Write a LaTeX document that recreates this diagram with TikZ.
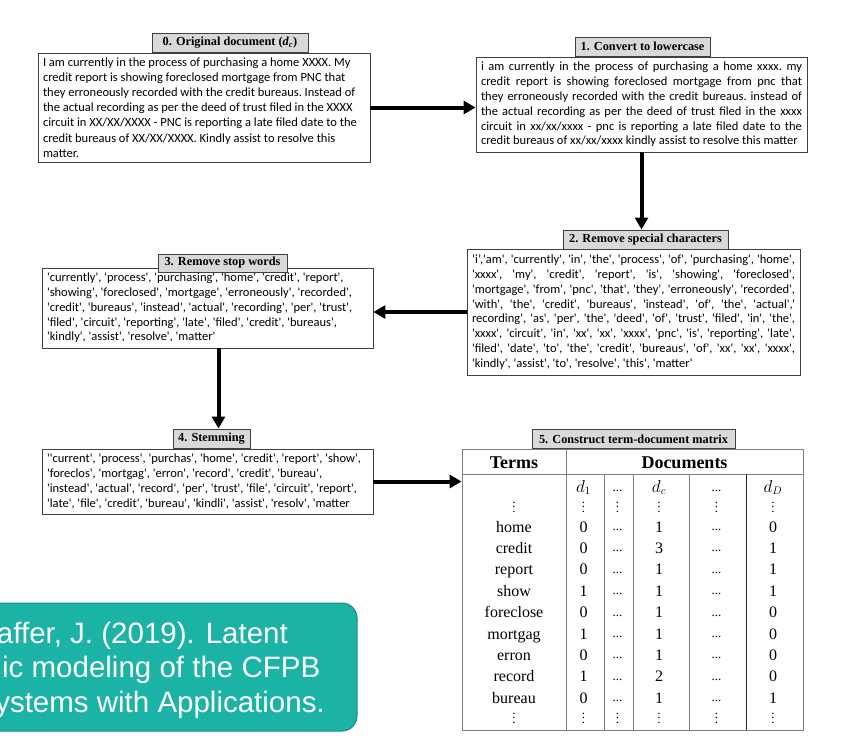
\documentclass[tikz,border=0pt]{standalone}
\usepackage{fontspec}
\setmainfont{Liberation Serif}
\newfontfamily\calfont{Carlito}
\newfontfamily\arialfont{Liberation Sans}
\usetikzlibrary{arrows.meta}
\definecolor{teal1}{HTML}{1AB3A6}
\definecolor{teal2}{HTML}{148C82}
\definecolor{boxline}{HTML}{404040}
\definecolor{titlefill}{HTML}{D9D9D9}
\definecolor{tabline}{HTML}{808080}
\newcommand\rs{\frenchspacing\spaceskip=0pt\xspaceskip=0pt\relax}
\newcommand\jl[2]{\makebox[#1][s]{#2}}
\newcommand\vd{\vbox{\baselineskip=4.3pt\lineskiplimit=0pt\hbox{.}\hbox{.}\hbox{.}}}
\tikzset{
  bodybox/.style={draw=boxline, line width=0.9pt, fill=white, inner xsep=5pt, inner ysep=0pt, align=left},
  bodyfont/.style={font=\calfont\fontsize{12.5}{#1}\selectfont},
  titlebox/.style={draw=boxline, line width=1pt, fill=titlefill, inner sep=0pt, minimum height=19pt,
    font=\bfseries\fontsize{12.3}{14}\selectfont},
  arr/.style={line width=4pt, -{Triangle[length=12pt,width=13pt]}},
  cell/.style={font=\fontsize{16}{16}\selectfont, inner sep=0pt, anchor=base},
  hcell/.style={font=\bfseries\fontsize{18}{18}\selectfont, inner sep=0pt, anchor=base},
  dcell/.style={font=\fontsize{13}{13}\selectfont, inner sep=0pt, anchor=base},
  vcell/.style={font=\fontsize{13}{13}\selectfont, inner sep=0pt, anchor=base},
  tabrule/.style={draw=tabline, line width=0.9pt},
  reftext/.style={font=\arialfont\fontsize{29.5}{29.5}\selectfont, text=white, inner sep=0pt},
}
\begin{document}
\begin{tikzpicture}[x=1pt,y=-1pt]
\useasboundingbox (0,0) rectangle (862,742);
\clip (0,0) rectangle (862,742);

% ---------- box 0
\node[bodybox, bodyfont=15.2, text width=322pt, minimum height=109pt] (b0) at (204,107.5)
{\rs I am currently in the process of purchasing a home XXXX. My\\
credit report is showing foreclosed mortgage from PNC that\\
they erroneously recorded with the credit bureaus. Instead of\\
the actual recording as per the deed of trust filed in the XXXX\\
circuit in XX/XX/XXXX - PNC is reporting a late filed date to the\\
credit bureaus of XX/XX/XXXX. Kindly assist to resolve this\\
matter.};
\node[titlebox, minimum width=156pt] (t0) at (230,42.5) {0. Original document (\textit{d}\textsubscript{\textit{c}})};

% ---------- box 1
\node[bodybox, bodyfont=14.8, text width=321pt, minimum height=95pt] (b1) at (641.5,104.5)
{\rs\jl{321pt}{i am currently in the process of purchasing a home xxxx. my}\\
\jl{321pt}{credit report is showing foreclosed mortgage from pnc that}\\
\jl{321pt}{they erroneously recorded with the credit bureaus. instead of}\\
\jl{321pt}{the actual recording as per the deed of trust filed in the xxxx}\\
\jl{321pt}{circuit in xx/xx/xxxx - pnc is reporting a late filed date to the}\\
credit bureaus of xx/xx/xxxx kindly assist to resolve this matter};
\node[titlebox, minimum width=135pt] (t1) at (642.5,46.5) {1. Convert to lowercase};

% ---------- box 2
\node[bodybox, bodyfont=14.9, text width=323pt, minimum height=126pt] (b2) at (633.5,312)
{\rs\jl{323pt}{‘i’,'am', 'currently', 'in', 'the', 'process', 'of', 'purchasing', 'home',}\\
\jl{323pt}{'xxxx', 'my', 'credit', 'report', 'is', 'showing', 'foreclosed',}\\
\jl{323pt}{'mortgage', 'from', 'pnc', 'that', 'they', 'erroneously', 'recorded',}\\
\jl{323pt}{'with', 'the', 'credit', 'bureaus', 'instead', 'of', 'the', 'actual',’}\\
\jl{323pt}{recording', 'as', 'per', 'the', 'deed', 'of', 'trust', 'filed', 'in', 'the',}\\
\jl{323pt}{'xxxx', 'circuit', 'in', 'xx', 'xx', 'xxxx', 'pnc', 'is', 'reporting', 'late',}\\
\jl{323pt}{'filed', 'date', 'to', 'the', 'credit', 'bureaus', 'of', 'xx', 'xx', 'xxxx',}\\
'kindly', 'assist', 'to', 'resolve', 'this', 'matter'};
\node[titlebox, minimum width=165pt] (t2) at (645.5,239.5) {2. Remove special characters};

% ---------- box 3
\node[bodybox, bodyfont=14.8, text width=321pt, minimum height=80pt] (b3) at (207.5,308)
{\rs 'currently', 'process', 'purchasing', 'home', 'credit', 'report',\\
'showing', 'foreclosed', 'mortgage', 'erroneously', 'recorded',\\
'credit', 'bureaus', 'instead', 'actual', 'recording', 'per', 'trust',\\
'filed', 'circuit', 'reporting', 'late', 'filed', 'credit', 'bureaus',\\
'kindly', 'assist', 'resolve', 'matter'};
\node[titlebox, minimum width=129pt, minimum height=18pt] (t3) at (222.5,263) {3. Remove stop words};

% ---------- box 4
\node[bodybox, bodyfont=15.3, text width=321pt, minimum height=65pt] (b4) at (207.5,481.5)
{\rs ''current', 'process', 'purchas', 'home', 'credit', 'report', 'show',\\
'foreclos', 'mortgag', 'erron', 'record', 'credit', 'bureau',\\
'instead', 'actual', 'record', 'per', 'trust', 'file', 'circuit', 'report',\\
'late', 'file', 'credit', 'bureau', 'kindli', 'assist', 'resolv', 'matter};
\node[titlebox, minimum width=77pt] (t4) at (211.5,438.5) {4. Stemming};

% ---------- table 5
\node[tabrule, fill=white, minimum width=341pt, minimum height=281pt, inner sep=0pt] (tab) at (632.5,589.5) {};
\draw[tabrule] (462,474) -- (803,474);
\draw[tabrule] (566,449) -- (566,730);
\draw[tabrule] (604,474) -- (604,730);
\draw[tabrule] (633,474) -- (633,730);
\draw[tabrule] (689,474) -- (689,730);
\draw[draw=black!85, line width=0.9pt] (746,474) -- (746,730);
\node[titlebox, minimum width=203pt] (t5) at (633.5,439) {5. Construct term-document matrix};

\node[hcell] (hterms) at (514,468) {Terms};
\node[hcell] (hdocs) at (684.5,468) {Documents};

\node[cell] (d1) at (583.5,492) {$d_1$};
\node[dcell] (e1) at (617.5,491) {...};
\node[cell] (dc) at (659,492) {$d_c$};
\node[dcell] (e2) at (716.5,491) {...};
\node[cell] (dD) at (773,492) {$d_D$};

\foreach \yy/\nm in {512/top, 723/bot} {
  \node[vcell] (v1\nm) at (514,\yy) {\vd};
  \node[vcell] (v2\nm) at (583.5,\yy) {\vd};
  \node[vcell] (v3\nm) at (617.5,\yy) {\vd};
  \node[vcell] (v4\nm) at (659,\yy) {\vd};
  \node[vcell] (v5\nm) at (716.5,\yy) {\vd};
  \node[vcell] (v6\nm) at (773,\yy) {\vd};
}

\foreach \t/\a/\b/\c [count=\i] in {home/0/1/0, credit/0/3/1, report/0/1/1, show/1/1/1,
    foreclose/0/1/0, mortgag/1/1/0, erron/0/1/0, record/1/2/0, bureau/0/1/1} {
  \pgfmathsetmacro\yy{532+(\i-1)*21.4}
  \pgfmathsetmacro\ye{\yy-1.5}
  \node[cell] (term\i) at (514,\yy) {\t};
  \node[cell] (ca\i) at (583.5,\yy) {\a};
  \node[dcell] (cx\i) at (617.5,\ye) {...};
  \node[cell] (cb\i) at (659,\yy) {\b};
  \node[dcell] (cy\i) at (716.5,\ye) {...};
  \node[cell] (cc\i) at (773,\yy) {\c};
}

% ---------- arrows
\draw[arr] (b0.east) -- (b0.east -| b1.west);
\draw[arr] (b1.south) -- (b1.south |- t2.north);
\draw[arr] (b2.west) -- (b2.west -| b3.east);
\coordinate (a34) at ([xshift=7pt]t4.north);
\draw[arr] (a34 |- b3.south) -- (a34);
\draw[arr] (b4.east) -- (b4.east -| tab.west);

% ---------- reference box
\node[draw=teal2, fill=teal1, rounded corners=15pt, line width=1pt, minimum width=387pt, minimum height=128pt, inner sep=0pt] (refbox) at (163.5,667) {};
\node[reftext, anchor=base east] (rl1) at (288,643) {affer, J. (2019). Latent};
\node[reftext, anchor=base west] (rl2) at (2,677) {ic modeling of the CFPB};
\node[reftext, anchor=base east] (rl3) at (325,712) {ystems with Applications.};
\end{tikzpicture}
\end{document}
